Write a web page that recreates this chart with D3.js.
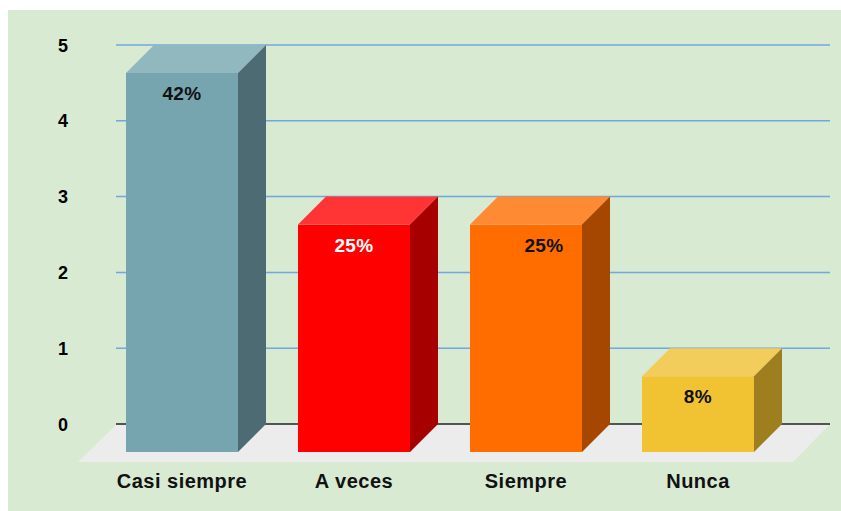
<!DOCTYPE html>
<html>
<head>
<meta charset="utf-8">
<script src="https://cdn.jsdelivr.net/npm/d3@7"></script>
<style>
  html, body { margin: 0; padding: 0; background: #ffffff; }
  svg { display: block; }
  text { font-family: "Liberation Sans", Arial, sans-serif; font-weight: bold; }
</style>
</head>
<body>
<svg id="chart" width="841" height="511"></svg>
<script>
// ---- data ----
const categories = ["Casi siempre", "A veces", "Siempre", "Nunca"];
const values = [5, 3, 3, 1];
const percentLabels = ["42%", "25%", "25%", "8%"];
const yTicks = [0, 1, 2, 3, 4, 5];
const frontColors = ["#76a5af", "#ff0000", "#ff6d01", "#f1c232"];
const topColors = ["#91b7bf", "#ff3434", "#ff8a34", "#f3cd5b"];
const sideColors = ["#4d6b72", "#a60000", "#a64700", "#9e7f20"];
const labelColors = ["#111111", "#ffffff", "#111111", "#111111"];

// ---- layout ----
const W = 841, H = 511;
const depth = 28;         // 3D offset of bar faces
const floorDepth = 38;    // depth of the floor slab
const gridLeft = 116, gridRight = 830;

const svg = d3.select("#chart");

// background
svg.append("rect").attr("x", 8).attr("y", 10).attr("width", W - 8).attr("height", H - 10)
  .attr("fill", "#d9ead3");

// back-plane value scale
const y = d3.scaleLinear().domain([0, 5]).range([424, 45]);
// front-face category scale
const x = d3.scaleBand().domain(categories).range([96, 784])
  .paddingInner(60 / 172).paddingOuter(30 / 172);

// gridlines
svg.append("g").selectAll("line").data(yTicks.filter(d => d !== 0)).join("line")
  .attr("x1", gridLeft).attr("x2", gridRight)
  .attr("y1", d => y(d)).attr("y2", d => y(d))
  .attr("stroke", "#6fa8dc").attr("stroke-width", 1.5);

// floor
const y0 = y(0);
svg.append("path")
  .attr("d", `M${gridLeft + 1},${y0} L${gridRight},${y0} L${gridRight - floorDepth + 1},${y0 + floorDepth} L${gridLeft - floorDepth},${y0 + floorDepth} Z`)
  .attr("fill", "#ececec");

// zero axis line
svg.append("line").attr("x1", gridLeft).attr("x2", gridRight)
  .attr("y1", y0).attr("y2", y0).attr("stroke", "#222222").attr("stroke-width", 1.5);

// y tick labels
svg.append("g").selectAll("text").data(yTicks).join("text")
  .attr("x", 63).attr("y", d => y(d) + 6.5)
  .attr("text-anchor", "middle").attr("font-size", 18).attr("fill", "#000")
  .text(d => d);

// bars
const bars = svg.append("g").selectAll("g").data(categories).join("g");
const bw = x.bandwidth();
bars.each(function (c, i) {
  const g = d3.select(this);
  const xl = x(c), xr = xl + bw;
  const yTopBack = y(values[i]);
  const yTopFront = yTopBack + depth;
  const yBotFront = y0 + depth;
  // front
  g.append("rect").attr("x", xl).attr("y", yTopFront).attr("width", bw)
    .attr("height", yBotFront - yTopFront).attr("fill", frontColors[i]);
  // top
  g.append("path")
    .attr("d", `M${xl},${yTopFront} L${xl + depth},${yTopBack} L${xr + depth},${yTopBack} L${xr},${yTopFront} Z`)
    .attr("fill", topColors[i]);
  // side
  g.append("path")
    .attr("d", `M${xr},${yTopFront} L${xr + depth},${yTopBack} L${xr + depth},${y0} L${xr},${yBotFront} Z`)
    .attr("fill", sideColors[i]);
  // value label
  const dx = (c === "Siempre") ? 18 : 0;
  g.append("text").attr("x", xl + bw / 2 + dx).attr("y", yTopFront + 27)
    .attr("text-anchor", "middle").attr("font-size", 19).attr("letter-spacing", 0.4)
    .attr("fill", labelColors[i])
    .text(percentLabels[i]);
  // category label
  g.append("text").attr("x", xl + bw / 2).attr("y", 488)
    .attr("text-anchor", "middle").attr("font-size", 20).attr("letter-spacing", 0.5)
    .attr("fill", "#111111")
    .text(c);
});
</script>
</body>
</html>
